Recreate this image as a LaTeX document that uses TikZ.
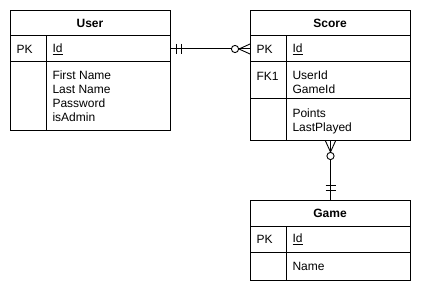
\documentclass[tikz,border=0pt]{standalone}
\usepackage{fontspec}
\setmainfont{Liberation Sans}
\usetikzlibrary{calc}
\begin{document}
\begin{tikzpicture}[x=1pt,y=-1pt,line width=1pt,
  tbl/.style={draw,anchor=north west,minimum width=160pt,inner sep=0pt},
  title/.style={font=\fontsize{12}{14}\selectfont\bfseries,anchor=center,inner sep=0pt},
  cell/.style={font=\fontsize{12}{14}\selectfont,anchor=west,align=left,inner sep=0pt},
  endmark/.style={line width=0.9pt}]
\useasboundingbox[fill=white] (0,0) rectangle (423,294);

% ---- User ----
\node[tbl,minimum height=120pt] (user) at (10,10) {};
\draw (10,36) -- (170,36) (10,62) -- (170,62) (46,36) -- (46,130);
\node[title] (userT) at (90,23) {User};
\node[cell] (userPK) at (16,49) {PK};
\node[cell] (userId) at (52,49) {\underline{Id}};
\node[cell] (userAttr) at (52,96.5) {First Name\\Last Name\\Password\\isAdmin};

% ---- Score ----
\node[tbl,minimum height=130pt] (score) at (250,10) {};
\draw (250,36) -- (410,36) (250,62) -- (410,62) (250,99) -- (410,99) (286,36) -- (286,140);
\node[title] (scoreT) at (330,23) {Score};
\node[cell] (scorePK) at (256,49) {PK};
\node[cell] (scoreId) at (292,49) {\underline{Id}};
\node[cell] (scoreFK) at (256,76) {FK1};
\node[cell] (scoreFKs) at (292,82.5) {UserId\\GameId};
\node[cell] (scoreAttr) at (292,121) {Points\\LastPlayed};

% ---- Game ----
\node[tbl,minimum height=80pt] (game) at (250,200) {};
\draw (250,226) -- (410,226) (250,252) -- (410,252) (286,226) -- (286,280);
\node[title] (gameT) at (330,213) {Game};
\node[cell] (gamePK) at (256,239) {PK};
\node[cell] (gameId) at (292,239) {\underline{Id}};
\node[cell] (gameAttr) at (292,266) {Name};

% ---- User (one, mandatory) to Score (zero or many) ----
\coordinate (uEnd) at ($(user.north east)+(0,39)$);
\coordinate (sEnd) at ($(score.north west)+(0,39)$);
\draw (uEnd) -- (sEnd);
\draw[endmark] ($(uEnd)+(5,-5)$) -- ++(0,10) ($(uEnd)+(10,-5)$) -- ++(0,10);
\draw[endmark] ($(sEnd)+(-11,0)$) -- ($(sEnd)+(0,-5)$)
               ($(sEnd)+(-11,0)$) -- ($(sEnd)+(0,5)$);
\draw[endmark,fill=white] ($(sEnd)+(-15,0)$) circle[radius=3.6pt];

% ---- Score (zero or many) to Game (one, mandatory) ----
\coordinate (sBot) at (score.south);
\coordinate (gTop) at (game.north);
\draw (sBot) -- (gTop);
\draw[endmark] ($(sBot)+(0,11)$) -- ($(sBot)+(-5,0)$)
               ($(sBot)+(0,11)$) -- ($(sBot)+(5,0)$);
\draw[endmark,fill=white] ($(sBot)+(0,15)$) circle[radius=3.6pt];
\draw[endmark] ($(gTop)+(-5,-15)$) -- ++(10,0) ($(gTop)+(-5,-10)$) -- ++(10,0);
\end{tikzpicture}
\end{document}
